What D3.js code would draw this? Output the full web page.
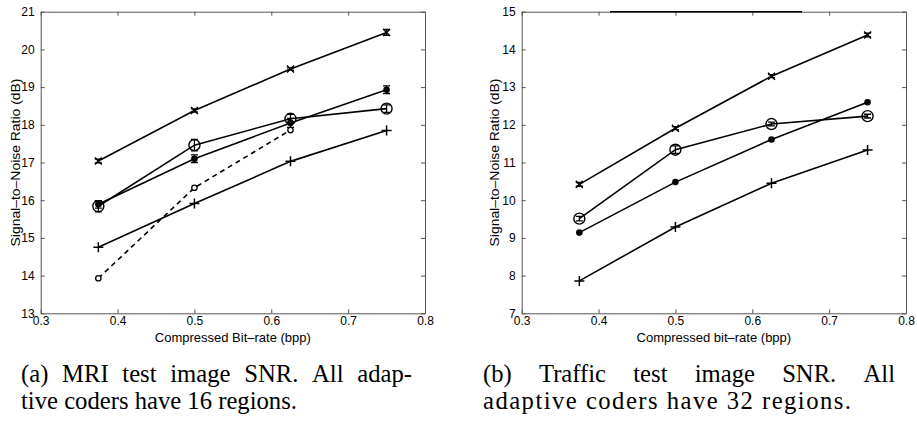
<!DOCTYPE html>
<html>
<head>
<meta charset="utf-8">
<script src="https://cdn.jsdelivr.net/npm/d3@7"></script>
<style>
  body { margin: 0; background: #fff; }
  svg { display: block; }
  .tick text { font-family: "Liberation Sans", Arial, sans-serif; font-size: 12px; fill: #000; }
  .axis-label { font-family: "Liberation Sans", Arial, sans-serif; font-size: 13px; fill: #000; }
  .caption { font-family: "Liberation Serif", "Times New Roman", serif; font-size: 22px; fill: #000; }
</style>
</head>
<body>
<script>
// shared x positions (bpp)
const bitrates = [0.375, 0.5, 0.625, 0.75];
const xTicks = [0.3, 0.4, 0.5, 0.6, 0.7, 0.8];

// (a) MRI test image
const mriTicks = [13, 14, 15, 16, 17, 18, 19, 20, 21];
const mriCross = [17.04, 18.38, 19.48, 20.45];
const mriCrossErr = [0.05, 0.04, 0.03, 0.08];
const mriDot = [15.89, 17.10, 18.05, 18.93];
const mriDotErr = [0.10, 0.10, 0.12, 0.10];
const mriCircle = [15.84, 17.46, 18.16, 18.43];
const mriCircleErr = [0.15, 0.15, 0.12, 0.10];
const mriSmall = [13.93, 16.33, 17.86];
const mriPlus = [14.75, 15.91, 17.03, 17.85];

// (b) Traffic test image
const trafficTicks = [7, 8, 9, 10, 11, 12, 13, 14, 15];
const trafficCross = [10.42, 11.91, 13.29, 14.38];
const trafficCrossErr = [0.05, 0.04, 0.04, 0.05];
const trafficCircle = [9.51, 11.34, 12.02, 12.23];
const trafficCircleErr = [0.06, 0.10, 0.05, 0.05];
const trafficDot = [9.14, 10.48, 11.61, 12.60];
const trafficPlus = [7.86, 9.29, 10.45, 11.33];

const width = 917, height = 431;
const svg = d3.select('body').append('svg')
    .attr('width', width)
    .attr('height', height);

let zip = (xs, ys, errs) => xs.slice(0, ys.length).map((x, i) => ({x, y: ys[i], e: errs ? errs[i] : 0}));

let drawMarkers = (g, pts, x, y, type) => {
    pts.forEach(d => {
        const cx = x(d.x), cy = y(d.y);
        if (d.e > 0) {
            const y0 = y(d.y - d.e), y1 = y(d.y + d.e);
            g.append('path')
                .attr('d', `M${cx},${y0}V${y1}M${cx - 3.5},${y0}H${cx + 3.5}M${cx - 3.5},${y1}H${cx + 3.5}`)
                .attr('stroke', '#000').attr('stroke-width', 1.3).attr('fill', 'none');
        }
        if (type === 'cross') {
            const s = 3.5;
            g.append('path')
                .attr('d', `M${cx - s},${cy - s}L${cx + s},${cy + s}M${cx - s},${cy + s}L${cx + s},${cy - s}`)
                .attr('stroke', '#000').attr('stroke-width', 1.5);
        } else if (type === 'plus') {
            const s = 5;
            g.append('path')
                .attr('d', `M${cx - s},${cy}H${cx + s}M${cx},${cy - s}V${cy + s}`)
                .attr('stroke', '#000').attr('stroke-width', 1.5);
        } else if (type === 'dot') {
            g.append('circle').attr('cx', cx).attr('cy', cy).attr('r', 3.3).attr('fill', '#000');
        } else if (type === 'circle') {
            g.append('circle').attr('cx', cx).attr('cy', cy).attr('r', 5.5)
                .attr('fill', 'none').attr('stroke', '#000').attr('stroke-width', 1.4);
        } else if (type === 'small') {
            g.append('circle').attr('cx', cx).attr('cy', cy).attr('r', 2.7)
                .attr('fill', '#fff').attr('stroke', '#000').attr('stroke-width', 1.3);
        }
    });
}

let drawPanel = (left, yTicks, series, xLabel, yLabelX) => {
    const plot = {left: left, right: left + 384.3, top: 11.7, bottom: 313.3};
    const x = d3.scaleLinear().domain([0.3, 0.8]).range([plot.left, plot.right]);
    const y = d3.scaleLinear().domain([yTicks[0], yTicks[yTicks.length - 1]]).range([plot.bottom, plot.top]);
    const g = svg.append('g');

    g.append('g').attr('transform', `translate(0,${plot.bottom})`)
        .call(d3.axisBottom(x).tickValues(xTicks).tickFormat(d3.format('.1f')).tickSize(-4).tickSizeOuter(0).tickPadding(3));
    g.append('g').attr('transform', `translate(${plot.left},0)`)
        .call(d3.axisLeft(y).tickValues(yTicks).tickFormat(d3.format('d')).tickSize(-4).tickSizeOuter(0).tickPadding(6));
    g.append('g').attr('transform', `translate(0,${plot.top})`)
        .call(d3.axisTop(x).tickValues(xTicks).tickFormat('').tickSize(-4).tickSizeOuter(0));
    g.append('g').attr('transform', `translate(${plot.right},0)`)
        .call(d3.axisRight(y).tickValues(yTicks).tickFormat('').tickSize(-4).tickSizeOuter(0));
    g.selectAll('.domain').attr('stroke', '#555');
    g.selectAll('.tick line').attr('stroke', '#555');

    const line = d3.line().x(d => x(d.x)).y(d => y(d.y));
    series.forEach(s => {
        const pts = zip(bitrates, s.values, s.errs);
        g.append('path').datum(pts)
            .attr('d', line)
            .attr('fill', 'none')
            .attr('stroke', '#000')
            .attr('stroke-width', 1.6)
            .attr('stroke-dasharray', s.dashed ? '5,4' : null);
    });
    series.forEach(s => drawMarkers(g, zip(bitrates, s.values, s.errs), x, y, s.marker));

    g.append('text').attr('class', 'axis-label')
        .attr('x', (plot.left + plot.right) / 2).attr('y', 342)
        .attr('text-anchor', 'middle').text(xLabel);
    g.append('text').attr('class', 'axis-label')
        .attr('transform', `translate(${yLabelX},${(plot.top + plot.bottom) / 2}) rotate(-90)`)
        .attr('text-anchor', 'middle')
        .attr('textLength', 168).attr('lengthAdjust', 'spacingAndGlyphs')
        .text('Signal\u2013to\u2013Noise Ratio (dB)');
    return {g, x, y, plot};
}

drawPanel(40.7, mriTicks, [
    {values: mriCross, errs: mriCrossErr, marker: 'cross'},
    {values: mriDot, errs: mriDotErr, marker: 'dot'},
    {values: mriCircle, errs: mriCircleErr, marker: 'circle'},
    {values: mriSmall, marker: 'small', dashed: true},
    {values: mriPlus, marker: 'plus'}
], 'Compressed Bit\u2013rate (bpp)', 20);

const right = drawPanel(521.7, trafficTicks, [
    {values: trafficCross, errs: trafficCrossErr, marker: 'cross'},
    {values: trafficCircle, errs: trafficCircleErr, marker: 'circle'},
    {values: trafficDot, marker: 'dot'},
    {values: trafficPlus, marker: 'plus'}
], 'Compressed bit\u2013rate (bpp)', 499);

// dark stretch of the top frame in panel (b)
right.g.append('line')
    .attr('x1', 610).attr('x2', 802)
    .attr('y1', right.plot.top).attr('y2', right.plot.top)
    .attr('stroke', '#000').attr('stroke-width', 1.6);

// captions: size the serif from the short line, then justify the full lines
const probe = svg.append('text').attr('class', 'caption').text('tive coders have 16 regions.');
const captionSize = 22 * 276 / probe.node().getComputedTextLength();
probe.remove();

let captionLine = (text, x0, x1, yBase, justify, fitWidth) => {
    const words = text.split(' ');
    if (!justify) {
        const t = svg.append('text').attr('class', 'caption').style('font-size', captionSize + 'px')
            .attr('x', x0).attr('y', yBase).text(text);
        if (fitWidth) t.attr('textLength', fitWidth).attr('lengthAdjust', 'spacing');
        return;
    }
    const nodes = words.map(w => svg.append('text').attr('class', 'caption')
        .style('font-size', captionSize + 'px').attr('y', yBase).text(w));
    const widths = nodes.map(n => n.node().getComputedTextLength());
    const gap = (x1 - x0 - d3.sum(widths)) / (words.length - 1);
    let pos = x0;
    nodes.forEach((n, i) => { n.attr('x', pos); pos += widths[i] + gap; });
}

captionLine('(a) MRI test image SNR. All adap-', 21, 412, 382, true);
captionLine('tive coders have 16 regions.', 21, 0, 409, false);
captionLine('(b) Traffic test image SNR. All', 483, 895, 382, true);
captionLine('adaptive coders have 32 regions.', 483, 0, 409, false, 368);
</script>
</body>
</html>
